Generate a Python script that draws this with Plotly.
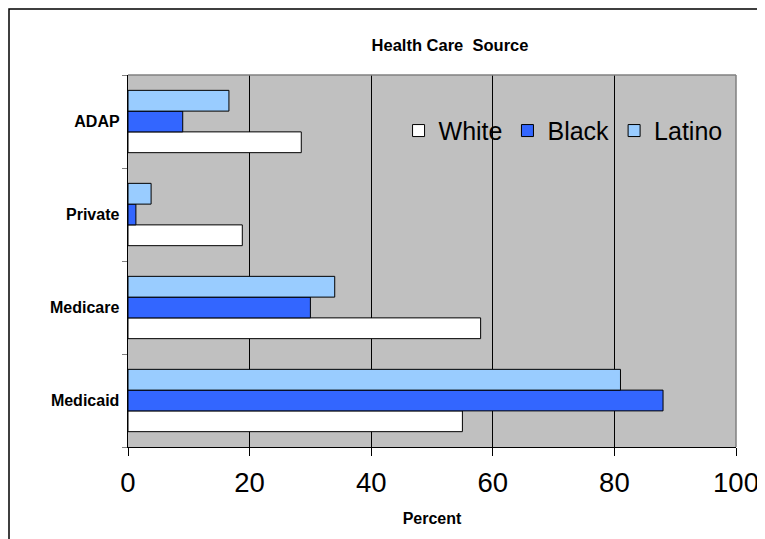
import plotly.graph_objects as go

categories = ["Medicaid", "Medicare", "Private", "ADAP"]
white = [55, 58, 18.8, 28.5]
black = [88, 30, 1.3, 9]
latino = [81, 34, 3.8, 16.6]
x_ticks = [0, 20, 40, 60, 80, 100]

W, H = 757, 531
L, R, T, B = 120, 29, 67, 92
PW, PH = W - L - R, H - T - B

fig = go.Figure()
series = [("White", white, "#FFFFFF"), ("Black", black, "#3366FF"), ("Latino", latino, "#99CCFF")]
for name, vals, col in series:
    fig.add_trace(go.Bar(
        y=categories, x=vals, name=name, orientation="h",
        marker=dict(color=col, line=dict(color="#000000", width=1)),
    ))

fig.update_layout(
    width=W, height=H,
    margin=dict(l=L, r=R, t=T, b=B, autoexpand=False),
    paper_bgcolor="#FFFFFF",
    plot_bgcolor="#C0C0C0",
    barmode="group",
    bargap=0.33, bargroupgap=0,
    font=dict(family="Liberation Sans, Arial", color="#000000"),
    title=dict(text="<b>Health Care  Source</b>", x=442 / W, xanchor="center",
               y=1 - 37 / H, yanchor="middle", font=dict(size=16.5)),
    showlegend=True,
    legend=dict(orientation="h", x=0.445, y=0.85, xanchor="left", yanchor="middle",
                bgcolor="rgba(0,0,0,0)", font=dict(size=25), traceorder="normal",
                itemwidth=30),
    xaxis=dict(range=[0, 100], tickvals=x_ticks, showgrid=True, gridcolor="#000000",
               gridwidth=1, zeroline=False, showline=True, linecolor="#000000",
               ticks="outside", ticklen=8, tickcolor="#000000",
               tickfont=dict(size=27.5), ticklabelstandoff=3, fixedrange=True,
               title=dict(text="<b>Percent</b>", font=dict(size=16), standoff=15)),
    yaxis=dict(categoryorder="array", categoryarray=categories, showgrid=False,
               showline=True, linecolor="#000000", ticks="outside", tickson="boundaries",
               ticklen=5, tickcolor="#808080", tickfont=dict(size=16, weight="bold"),
               ticksuffix=" ", zeroline=False),
)

# plot area top/right gray border
fig.add_shape(type="line", xref="paper", yref="paper", x0=0, x1=1, y0=1, y1=1,
              line=dict(color="#808080", width=1.5))
fig.add_shape(type="line", xref="paper", yref="paper", x0=1, x1=1, y0=0, y1=1,
              line=dict(color="#808080", width=1.5))
# outer chart frame
fig.add_shape(type="rect", xref="paper", yref="paper",
              x0=(1 - L) / PW, x1=(W + 20 - L) / PW,
              y0=-(B + 20) / PH, y1=1 + (T - 1) / PH,
              line=dict(color="#000000", width=1.5), fillcolor="rgba(0,0,0,0)")

fig.write_html("out.html")
